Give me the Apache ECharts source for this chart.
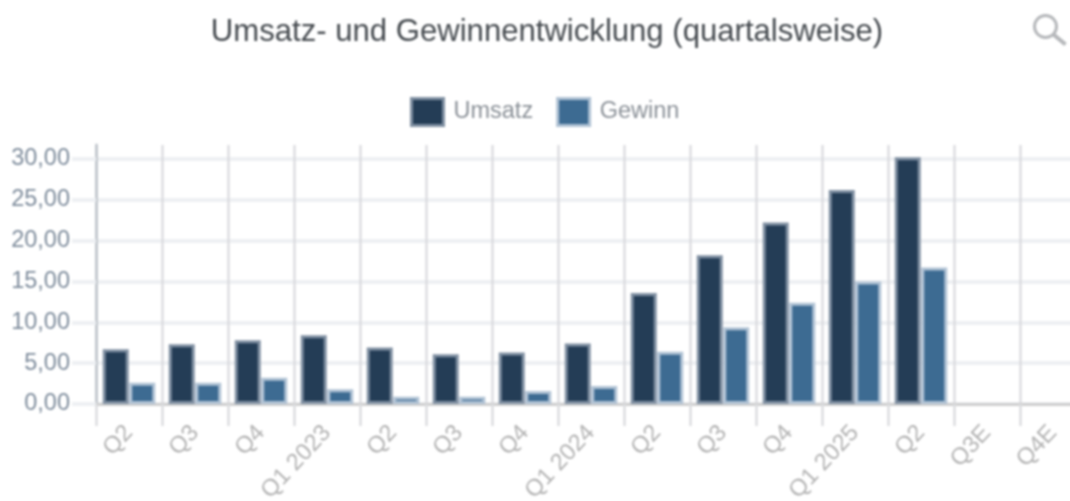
<!DOCTYPE html>
<html>
<head>
<meta charset="utf-8">
<script src="https://cdn.jsdelivr.net/npm/echarts@6/dist/echarts.min.js"></script>
<style>
html, body { margin: 0; padding: 0; background: #fff; overflow: hidden; }
/* chart is wider than the window: the last band is cut off in the reference */
#chart { width: 1100px; height: 501px; filter: blur(0.8px); }
</style>
</head>
<body>
<div id="chart"></div>
<script>
const categories = ['Q2', 'Q3', 'Q4', 'Q1 2023', 'Q2', 'Q3', 'Q4', 'Q1 2024', 'Q2', 'Q3', 'Q4', 'Q1 2025', 'Q2', 'Q3E', 'Q4E']
const umsatz = [6.7, 7.3, 7.8, 8.4, 6.9, 6.1, 6.3, 7.4, 13.6, 18.2, 22.2, 26.2, 30.2, null, null]
const gewinn = [2.6, 2.6, 3.2, 1.8, 0.9, 0.9, 1.6, 2.2, 6.4, 9.4, 12.4, 15.0, 16.7, null, null]
const yTicks = { min: 0, max: 31.7, interval: 5 }

const chart = echarts.init(document.getElementById('chart'))
const fontFamily = 'Liberation Sans, Arial, sans-serif'

chart.setOption({
    animation: false,
    textStyle: { fontFamily },
    title: {
        text: 'Umsatz- und Gewinnentwicklung (quartalsweise)',
        left: 542,
        top: 12,
        textAlign: 'center',
        textStyle: { fontSize: 31.1, fontWeight: 'normal', color: '#454a4f', fontFamily }
    },
    legend: {
        top: 92,
        left: 405,
        icon: 'rect',
        itemWidth: 32,
        itemHeight: 27,
        itemGap: 23,
        itemStyle: { borderWidth: 3 },
        textStyle: { fontSize: 23.5, color: '#8a9097', fontFamily, padding: [0, 0, 0, 5] },
        data: ['Umsatz', 'Gewinn']
    },
    // labels run off the bottom in the reference, so the grid must not shrink for them
    grid: { left: 96, right: 14, top: 145, bottom: 97, outerBoundsMode: 'none' },
    xAxis: {
        type: 'category',
        data: categories,
        axisTick: { show: true, length: 22, lineStyle: { color: '#dcdde0', width: 2.5 } },
        axisLine: { lineStyle: { color: '#cfcfcf', width: 3 } },
        splitLine: { show: true, lineStyle: { color: '#dcdde0', width: 2.5 } },
        axisLabel: { interval: 0, rotate: 47, fontSize: 23.5, color: '#b3b3b3', margin: 25 }
    },
    yAxis: {
        type: 'value',
        min: yTicks.min,
        max: yTicks.max,
        interval: yTicks.interval,
        axisLine: { show: true, lineStyle: { color: '#c3c8ce', width: 3 } },
        axisTick: { show: true, length: 24, lineStyle: { color: '#eef0f3', width: 4 } },
        splitLine: { showMaxLine: false, lineStyle: { color: '#eef0f3', width: 4 } },
        axisLabel: {
            fontSize: 23.5,
            color: '#7d8b9b',
            margin: 26,
            showMaxLabel: false,
            formatter: v => v.toFixed(2).replace('.', ',')
        }
    },
    series: [
        {
            name: 'Umsatz',
            type: 'bar',
            data: umsatz,
            barWidth: 26,
            barGap: '2%',
            itemStyle: { color: '#243d56', borderColor: '#8090a2', borderWidth: 3 }
        },
        {
            name: 'Gewinn',
            type: 'bar',
            data: gewinn,
            barWidth: 26,
            itemStyle: { color: '#3d6b92', borderColor: '#b0c2d4', borderWidth: 3 }
        }
    ],
    graphic: [
        {
            type: 'group',
            left: 1032,
            top: 13,
            children: [
                { type: 'circle', shape: { cx: 13, cy: 13, r: 11 }, style: { fill: 'none', stroke: '#b5b7ba', lineWidth: 3 } },
                { type: 'line', shape: { x1: 21, y1: 21, x2: 33, y2: 31 }, style: { stroke: '#b5b7ba', lineWidth: 4 } }
            ]
        }
    ]
})
</script>
</body>
</html>
